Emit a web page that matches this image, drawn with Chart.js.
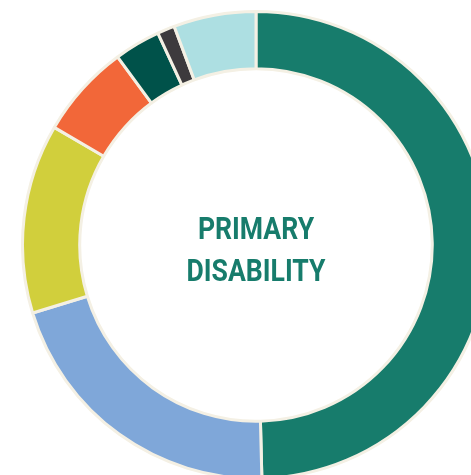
<!DOCTYPE html>
<html>
<head>
<meta charset="utf-8">
<script src="https://cdn.jsdelivr.net/npm/chart.js@4"></script>
<style>
  html, body { margin: 0; padding: 0; background: #fff; overflow: hidden; width: 471px; height: 475px; }
  #wrap { position: absolute; left: 21px; top: 10px; width: 470px; height: 470px; }
</style>
</head>
<body>
<div id="wrap"><canvas id="disabilityChart" width="470" height="470"></canvas></div>
<script>
// primary disability shares, clockwise from 12 o'clock
const categories = ['Category A', 'Category B', 'Category C', 'Category D', 'Category E', 'Category F', 'Category G'];
const shares = [49.6, 20.7, 13.1, 6.5, 3.2, 1.2, 5.7];
const colors = ['#177c6c', '#7fa7d9', '#d1cf3c', '#f26739', '#00524a', '#3d3a3d', '#addfe2'];
const centerLines = ['PRIMARY', 'DISABILITY'];

// condensed bold title in the hole
const centerText = {
    id: 'centerText',
    afterDraw(chart) {
        const c = chart.ctx;
        const arc = chart.getDatasetMeta(0).data[0];
        c.save();
        c.fillStyle = '#177c6c';
        c.textAlign = 'center';
        c.textBaseline = 'alphabetic';
        c.font = 'bold 32px Roboto, "DejaVu Sans", sans-serif';
        const sx = 139 / c.measureText(centerLines[1]).width;
        c.translate(arc.x, arc.y);
        c.scale(sx, 1);
        c.fillText(centerLines[0], 0, -6);
        c.fillText(centerLines[1], 0, 36);
        c.restore();
    }
};

const ctx = document.getElementById('disabilityChart').getContext('2d');
const chart = new Chart(ctx, {
    type: 'doughnut',
    data: {
        labels: categories,
        datasets: [{
            data: shares,
            backgroundColor: colors,
            borderColor: '#f4f0e4',
            borderWidth: 3
        }]
    },
    options: {
        responsive: false,
        animation: false,
        cutout: '75.5%',
        layout: {padding: 0},
        plugins: {
            legend: {display: false},
            tooltip: {enabled: false}
        }
    },
    plugins: [centerText]
});
</script>
</body>
</html>
